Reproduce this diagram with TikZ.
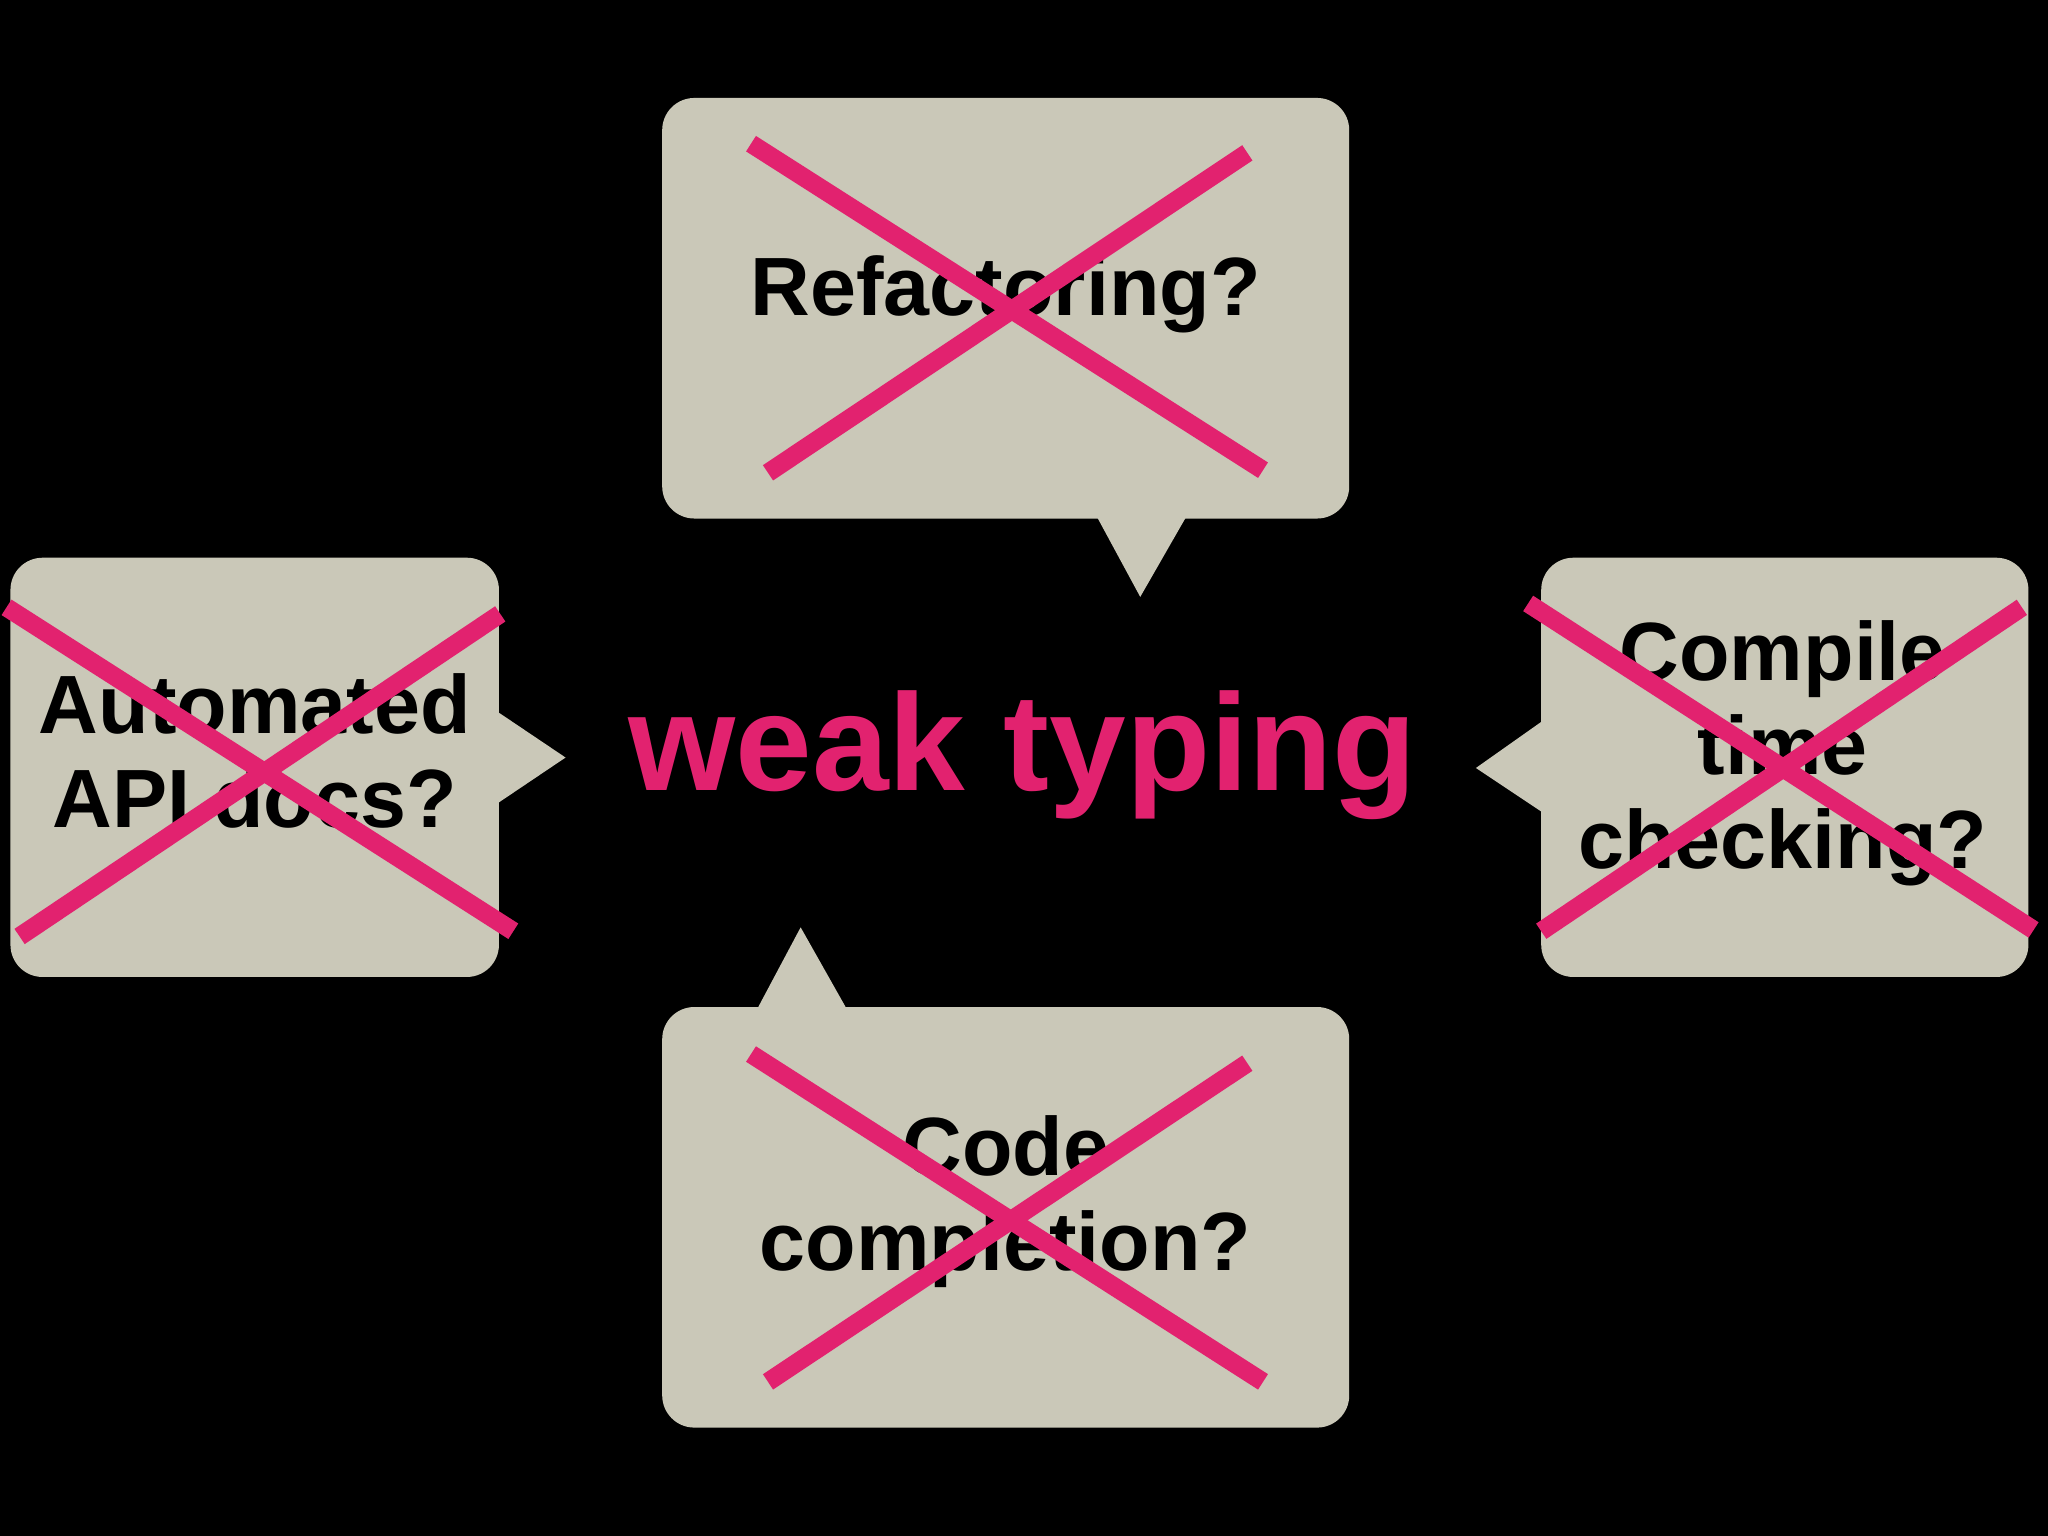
\documentclass[tikz,border=0pt]{standalone}
\usepackage{fontspec}
\setmainfont{Liberation Sans}
\begin{document}
\begin{tikzpicture}[x=0.01cm,y=-0.01cm,
  bubble/.style={fill=boxc,rounded corners=7pt},
  cross/.style={draw=pinkc,line width=4pt},
  lbl/.style={font=\bfseries\fontsize{18}{20.5}\selectfont,align=center,text=black}]
\definecolor{boxc}{HTML}{CAC8B8}
\definecolor{pinkc}{HTML}{E2226F}
\fill[black] (0,0) rectangle (1568,1176);
\useasboundingbox (0,0) rectangle (1568,1176);
% top
\fill[bubble] (507,75) rectangle (1033,397);
\fill[boxc] (840,396) -- (908,396) -- (873,457) -- cycle;
\node[lbl] (t) at (770,225) {Refactoring?};
\draw[cross] (575,110) -- (967,360);
\draw[cross] (955,117) -- (588,362);
% left
\fill[bubble] (8,427) rectangle (382,748);
\fill[boxc] (381,545) -- (381,615) -- (433,580) -- cycle;
\node[lbl] (l) at (195,575) {Automated\\API docs?};
\draw[cross] (5,465) -- (393,713);
\draw[cross] (383,470) -- (15,717);
% right
\fill[bubble] (1180,427) rectangle (1553,748);
\fill[boxc] (1181,552) -- (1181,622) -- (1130,588) -- cycle;
\node[lbl] (r) at (1365,577) {Compile\\time\\checking?};
\draw[cross] (1170,462) -- (1557,712);
\draw[cross] (1548,465) -- (1180,713);
% bottom
\fill[bubble] (507,771) rectangle (1033,1093);
\fill[boxc] (580,772) -- (648,772) -- (613,710) -- cycle;
\node[lbl] (b) at (770,920) {Code\\completion?};
\draw[cross] (575,807) -- (967,1058);
\draw[cross] (955,814) -- (588,1058);
% center
\node[font=\bfseries\fontsize{30}{34}\selectfont,text=pinkc] (c) at (783,578) {weak typing};
\end{tikzpicture}
\end{document}
